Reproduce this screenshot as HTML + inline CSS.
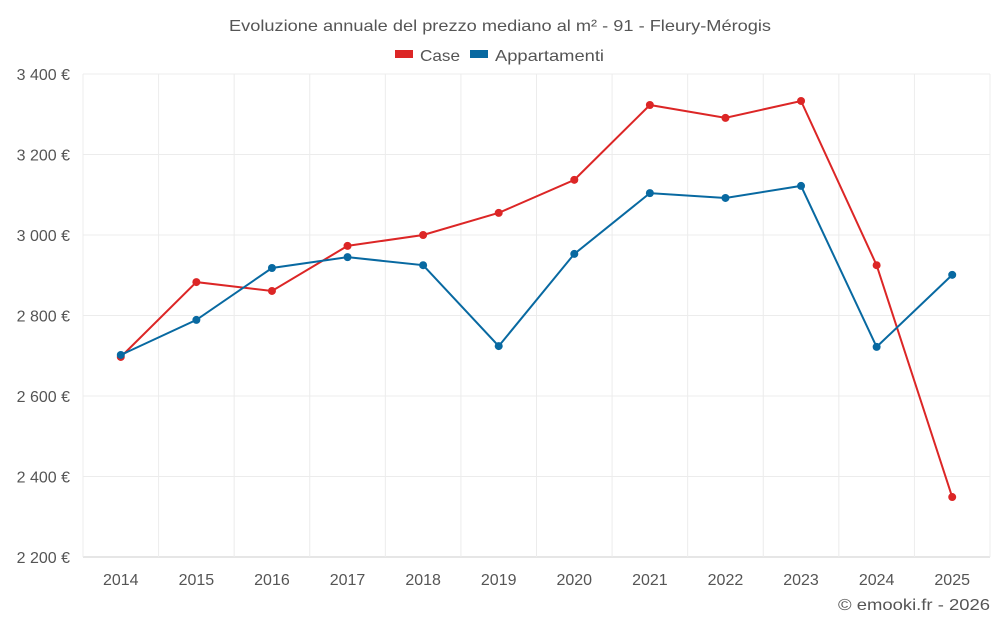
<!DOCTYPE html>
<html><head><meta charset="utf-8"><style>
body{margin:0;background:#fff;font-family:"Liberation Sans",sans-serif}
svg text{font-family:"Liberation Sans",sans-serif;fill:#555}
</style></head><body>
<svg id="chart" width="1000" height="625">
<text x="229" y="31" textLength="542" lengthAdjust="spacingAndGlyphs" font-size="16">Evoluzione annuale del prezzo mediano al m² - 91 - Fleury-Mérogis</text>
<g>
<g><rect x="395" y="50" width="18" height="8" fill="#dc2626"/><text x="420" y="61" font-size="16" textLength="40" lengthAdjust="spacingAndGlyphs">Case</text></g>
<g><rect x="470" y="50" width="18" height="8" fill="#0869a1"/><text x="495" y="61" font-size="16" textLength="109" lengthAdjust="spacingAndGlyphs">Appartamenti</text></g>
</g>
<g id="grid"></g><g id="axes"></g><g id="series"></g>
<text x="838" y="610" font-size="16" textLength="152" lengthAdjust="spacingAndGlyphs">© emooki.fr - 2026</text>
</svg>
<script>
const years=["2014","2015","2016","2017","2018","2019","2020","2021","2022","2023","2024","2025"];
const caseValues=[2697,2883,2861,2973,3000,3055,3137,3323,3291,3333,2925,2349];
const appValues=[2702,2789,2918,2945,2925,2724,2953,3104,3092,3122,2722,2901];
const yTicks=[2200,2400,2600,2800,3000,3200,3400];
const yTickLabels=["2 200 €","2 400 €","2 600 €","2 800 €","3 000 €","3 200 €","3 400 €"];
const L=83,R=990,T=74,B=557,yMin=2200,yMax=3400;
const bw=(R-L)/years.length;
const x=i=>L+bw*(i+0.5);
const y=v=>B-(v-yMin)/(yMax-yMin)*(B-T);
const NS="http://www.w3.org/2000/svg";
function mk(t,a,p){const e=document.createElementNS(NS,t);for(const k in a)e.setAttribute(k,a[k]);p.appendChild(e);return e;}
const grid=document.getElementById('grid'),axes=document.getElementById('axes'),ser=document.getElementById('series');
yTicks.forEach((v,i)=>{
 const l=mk('line',{x1:L,x2:R,y1:y(v),y2:y(v),stroke:i==0?'#ccc':'#ececec'},grid);
 
 
 const t=mk('text',{x:70,y:y(v)+6,'text-anchor':'end','font-size':16},axes);
 t.textContent=yTickLabels[i];
 
 
});
for(let i=0;i<=years.length;i++){
 const l=mk('line',{x1:L+bw*i,x2:L+bw*i,y1:T,y2:B,stroke:'#ececec'},grid);
 
 
}
years.forEach((yr,i)=>{
 const t=mk('text',{x:x(i),y:585,'text-anchor':'middle','font-size':16},axes);
 t.textContent=yr;
 
 
});
function draw(vals,color,name){
 const p=mk('polyline',{points:vals.map((v,i)=>x(i)+','+y(v)).join(' '),fill:'none',stroke:color,'stroke-width':2},ser);
 
 
 vals.forEach((v,i)=>{
  const c=mk('circle',{cx:x(i),cy:y(v),r:4,fill:color},ser);
  
  
 });
}
draw(caseValues,'#dc2626','case');
draw(appValues,'#0869a1','appartamenti');
</script>
</body></html>
